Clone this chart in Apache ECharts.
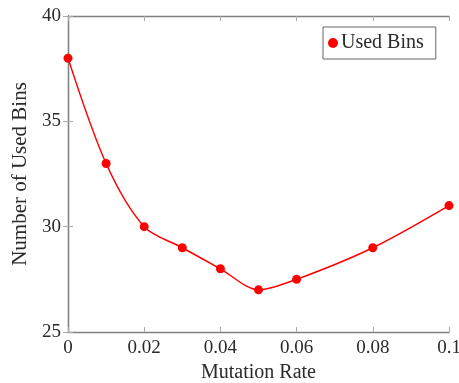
<!DOCTYPE html>
<html><head><meta charset="utf-8">
<script src="https://cdn.jsdelivr.net/npm/echarts@6/dist/echarts.min.js"></script>
<style>html,body{margin:0;padding:0;background:#fff}#c{width:459px;height:383px}</style>
</head><body><div id="c"></div>
<script>
const mutationRates = [0, 0.01, 0.02, 0.03, 0.04, 0.05, 0.06, 0.08, 0.1];
const usedBins = [38, 33, 30, 29, 28, 27, 27.5, 29, 31];
const xTicks = [0, 0.02, 0.04, 0.06, 0.08, 0.1];
const yTicks = [25, 30, 35, 40];
const seriesName = 'Used Bins';

const font = 'Liberation Serif, DejaVu Serif, serif';
const axisCol = '#808080';
const txtCol = '#2a2a2a';
function xAxis(pos, labels) {
  return {
    type: 'value', position: pos, min: 0, max: 0.1, interval: 0.02,
    axisLine: {show: true, lineStyle: {color: axisCol, width: 1.3}},
    axisTick: {show: true, inside: true, length: 5, lineStyle: {color: '#aaa'}},
    splitLine: {show: false},
    axisLabel: {show: labels, color: txtCol, fontFamily: font, fontSize: 19, margin: 7,
      formatter: v => String(Math.round(v * 100) / 100)},
    name: labels ? 'Mutation Rate' : '', nameLocation: 'middle', nameGap: 27,
    nameTextStyle: {color: txtCol, fontFamily: font, fontSize: 20}
  };
}
function yAxis(pos, labels) {
  return {
    type: 'value', position: pos, min: 25, max: 40, interval: 5,
    axisLine: {show: true, lineStyle: {color: axisCol, width: 1.3}},
    axisTick: {show: true, inside: true, length: 5, lineStyle: {color: '#aaa'}},
    splitLine: {show: false},
    axisLabel: {show: labels, color: txtCol, fontFamily: font, fontSize: 19, margin: 7},
    name: labels ? 'Number of Used Bins' : '', nameLocation: 'middle', nameGap: 37,
    nameTextStyle: {color: txtCol, fontFamily: font, fontSize: 21}
  };
}
const chart = echarts.init(document.getElementById('c'), null, {renderer: 'canvas'});
chart.setOption({
  animation: false,
  grid: {left: 68, right: 10, top: 16, bottom: 51, outerBoundsMode: 'none', containLabel: false},
  xAxis: [xAxis('bottom', true), xAxis('top', false)],
  yAxis: [yAxis('left', true), yAxis('right', false)],
  legend: {
    left: 323, top: 27, orient: 'vertical',
    data: [{name: seriesName, icon: 'circle'}],
    itemWidth: 10, itemHeight: 10, itemGap: 4,
    borderColor: '#666', borderWidth: 1, borderRadius: 0, padding: [6, 12, 6, 5],
    textStyle: {fontFamily: font, fontSize: 20, color: txtCol, padding: [0, 0, 0, -2]}
  },
  series: [{
    name: seriesName, type: 'line', xAxisIndex: 0, yAxisIndex: 0,
    data: mutationRates.map((x, i) => [x, usedBins[i]]),
    smooth: 0.3,
    symbol: 'circle', symbolSize: 9,
    lineStyle: {color: '#ff0000', width: 1.5},
    itemStyle: {color: '#ff0000'}
  }]
});
</script></body></html>
